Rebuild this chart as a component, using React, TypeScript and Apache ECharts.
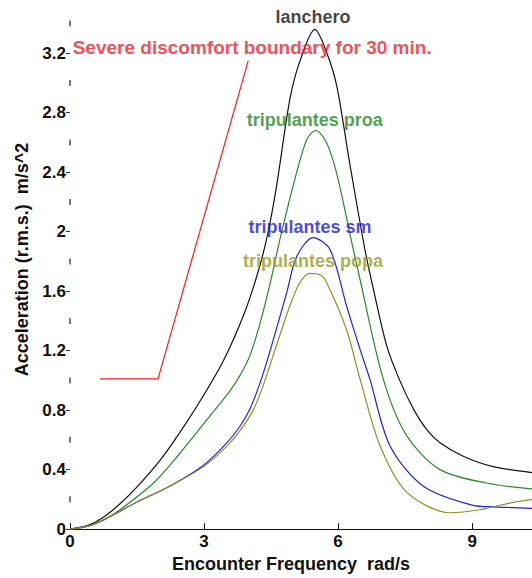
import React, { useEffect, useRef } from "react";
import * as echarts from "echarts";

// [frequency rad/s, acceleration m/s^2]
const lanchero: [number, number][] = [
  [0, 0], [0.4, 0.025], [0.75, 0.08], [1.12, 0.17], [1.49, 0.28], [2.01, 0.46], [2.46, 0.65],
  [2.95, 0.88], [3.43, 1.13], [3.9, 1.45], [4.18, 1.7], [4.4, 1.95], [4.62, 2.3], [4.92, 2.89],
  [5.15, 3.15], [5.48, 3.36], [5.75, 3.2], [5.97, 2.98], [6.26, 2.46], [6.6, 1.88], [6.8, 1.6],
  [7.09, 1.23], [7.38, 1.0], [7.7, 0.8], [7.98, 0.67], [8.28, 0.58], [8.8, 0.49], [9.47, 0.42],
  [10.34, 0.38],
];
const proa: [number, number][] = [
  [0, 0], [0.4, 0.02], [0.75, 0.06], [1.12, 0.13], [1.87, 0.31], [2.46, 0.51], [3.13, 0.76],
  [3.58, 0.93], [3.8, 1.03], [4.03, 1.17], [4.25, 1.38], [4.47, 1.64], [4.7, 1.95], [5.03, 2.35],
  [5.3, 2.62], [5.5, 2.68], [5.74, 2.6], [5.97, 2.39], [6.34, 1.88], [6.49, 1.68], [7.01, 1.01],
  [7.53, 0.63], [8.28, 0.4], [9.32, 0.31], [10.34, 0.27],
];
const sm: [number, number][] = [
  [0, 0], [0.4, 0.02], [0.8, 0.07], [1.49, 0.18], [2.24, 0.29], [2.99, 0.43], [3.51, 0.58],
  [3.8, 0.69], [4.03, 0.81], [4.25, 0.98], [4.47, 1.19], [4.85, 1.59], [5.07, 1.83], [5.44, 1.96],
  [5.82, 1.88], [6.19, 1.5], [6.49, 1.21], [6.71, 1.01], [7.16, 0.56], [7.9, 0.29], [9.02, 0.16],
  [9.47, 0.15], [10.34, 0.14],
];
const popa: [number, number][] = [
  [0, 0], [0.4, 0.02], [0.8, 0.07], [1.49, 0.18], [2.24, 0.29], [2.99, 0.42], [3.55, 0.57],
  [3.85, 0.68], [4.1, 0.8], [4.33, 0.97], [4.55, 1.17], [4.92, 1.5], [5.15, 1.66], [5.37, 1.72],
  [5.6, 1.71], [5.74, 1.66], [6.19, 1.34], [6.49, 1.01], [6.94, 0.56], [7.53, 0.25], [8.5, 0.11],
  [9.17, 0.13], [9.92, 0.18], [10.34, 0.2],
];
const boundary: [number, number][] = [[0.67, 1.01], [1.97, 1.01], [3.99, 3.15]];

const labelNames = [
  "lanchero",
  "tripulantes proa",
  "tripulantes sm",
  "tripulantes popa",
];
const labelPos: [number, number][] = [[5.44, 3.44], [5.48, 2.75], [5.37, 2.03], [5.44, 1.8]];
const boundaryLabel = "Severe discomfort boundary for 30 min.";
const boundaryLabelPos: [number, number] = [0.06, 3.24];

const yDashes = [0.2, 0.6, 1.0, 1.4, 1.8, 2.2, 2.6, 3.0, 3.4];

const X_MAX = 10.34;
const Y_MAX = 3.45;

const FONT = "'Liberation Sans', Arial, sans-serif";
const COLORS = {
  lanchero: "#111111",
  proa: "#2a8a2a",
  sm: "#2222dd",
  popa: "#8f8f22",
  boundary: "#ff1a1a",
};
const TEXT_COLORS = ["#111111", "#1e8a1e", "#1a1ad8", "#9a9a22"];

export default function App() {
  const ref = useRef<HTMLDivElement>(null);
  useEffect(() => {
    if (!ref.current) return;
    const chart = echarts.init(ref.current, undefined, { renderer: "svg" });
    const lineSeries = (name: string, data: [number, number][], color: string, smooth: number) => ({
      name,
      type: "line",
      data,
      smooth,
      symbol: "none",
      lineStyle: { color, width: 1.2 },
      z: 3,
    });
    chart.setOption({
      animation: false,
      backgroundColor: "#ffffff",
      grid: { left: 70, right: 0, top: 16, bottom: 48, containLabel: false },
      xAxis: {
        type: "value",
        min: 0,
        max: X_MAX,
        interval: 3,
        name: "Encounter Frequency  rad/s",
        nameLocation: "middle",
        nameGap: 24,
        nameTextStyle: {
          fontFamily: FONT,
          fontWeight: "bold",
          fontSize: 18,
          color: "#111",
          padding: [0, 20, 0, 0],
        },
        axisLine: { lineStyle: { color: "#111", width: 1.2 } },
        axisTick: { show: true, inside: true, length: 6, lineStyle: { color: "#111" } },
        axisLabel: {
          showMaxLabel: false,
          margin: 4,
          fontFamily: FONT,
          fontWeight: "bold",
          fontSize: 17,
          color: "#111",
          formatter: (v: number) => (Math.abs(v % 3) < 1e-6 ? String(v) : ""),
        },
        splitLine: { show: false },
      },
      yAxis: {
        type: "value",
        min: 0,
        max: Y_MAX,
        interval: 0.4,
        name: "Acceleration (r.m.s.)  m/s^2",
        nameLocation: "middle",
        nameGap: 28,
        nameRotate: 90,
        nameTextStyle: {
          fontFamily: FONT,
          fontWeight: "bold",
          fontSize: 18,
          color: "#111",
          padding: [0, 0, 0, 26],
        },
        axisLine: { show: false },
        axisTick: { show: true, length: 4, lineStyle: { color: "#333" } },
        axisLabel: {
          showMaxLabel: false,
          margin: 4,
          fontFamily: FONT,
          fontWeight: "bold",
          fontSize: 17,
          color: "#111",
          formatter: (v: number) => {
            const k = v / 0.4;
            return Math.abs(k - Math.round(k)) < 1e-6 ? String(Math.round(v * 10) / 10) : "";
          },
        },
        splitLine: { show: false },
      },
      series: [
        {
          type: "scatter",
          data: yDashes.map((y) => [0, y]),
          symbol: "rect",
          symbolSize: [1.5, 6],
          itemStyle: { color: "#222" },
          silent: true,
          clip: false,
          z: 2,
        },
        lineSeries("boundary", boundary, COLORS.boundary, 0),
        lineSeries("lanchero", lanchero, COLORS.lanchero, 0.3),
        lineSeries("proa", proa, COLORS.proa, 0.3),
        lineSeries("sm", sm, COLORS.sm, 0.3),
        lineSeries("popa", popa, COLORS.popa, 0.3),
        {
          type: "scatter",
          symbolSize: 0,
          silent: true,
          clip: false,
          z: 5,
          data: labelNames.map((n, i) => ({
            value: [labelPos[i][0], labelPos[i][1]],
            name: n,
            label: { color: TEXT_COLORS[i] },
          })),
          label: {
            show: true,
            position: "inside",
            formatter: (p: any) => p.name,
            fontFamily: FONT,
            fontWeight: "bold",
            fontSize: 18,
          },
        },
        {
          type: "scatter",
          symbolSize: 0,
          silent: true,
          clip: false,
          z: 5,
          data: [{ value: boundaryLabelPos, name: boundaryLabel }],
          label: {
            show: true,
            position: "right",
            distance: 0,
            formatter: (p: any) => p.name,
            fontFamily: FONT,
            fontWeight: "bold",
            fontSize: 19,
            color: "#f0202a",
          },
        },
      ],
    });
    return () => chart.dispose();
  }, []);
  return <div ref={ref} style={{ width: 532, height: 578, position: "absolute", left: 0, top: 0 }} />;
}
